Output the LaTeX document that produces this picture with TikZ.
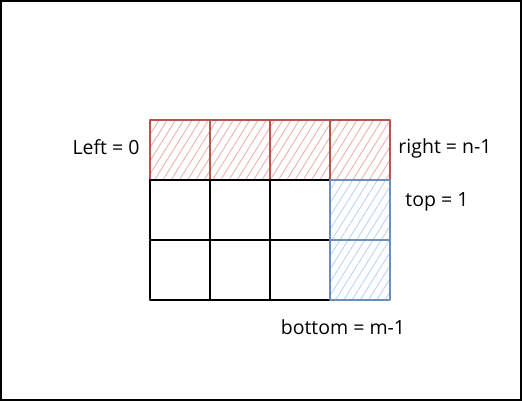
\documentclass[tikz,border=0pt]{standalone}
\usepackage{fontspec}
\setmainfont{Open Sans}
\usetikzlibrary{patterns.meta}
\definecolor{redS}{HTML}{B85450}
\definecolor{redF}{HTML}{F2AFAD}
\definecolor{blueS}{HTML}{6C8EBF}
\definecolor{blueF}{HTML}{BCD3F2}
\tikzset{
  cell/.style={draw=black, line width=2.3pt, minimum width=60pt, minimum height=60pt, inner sep=0pt, outer sep=0pt, line join=round},
  redcell/.style={cell, draw=redS, pattern={Lines[angle=58, distance=7pt, line width=0.9pt]}, pattern color=redF},
  bluecell/.style={cell, draw=blueS, pattern={Lines[angle=58, distance=7pt, line width=0.9pt]}, pattern color=blueF},
  lbl/.style={font=\fontsize{19.5}{22}\selectfont, inner sep=0pt}
}
\begin{document}
\begin{tikzpicture}[x=1pt, y=-1pt]
\useasboundingbox (0,0) rectangle (522,401);
\draw[line width=1.6pt] (0.8,0.8) rectangle (521.2,400.2);
% top row (red)
\node[redcell] (r1) at (180,150) {};
\node[redcell] (r2) at (240,150) {};
\node[redcell] (r3) at (300,150) {};
\node[redcell] (r4) at (360,150) {};
% plain cells
\node[cell] (a21) at (180,210) {};
\node[cell] (a22) at (240,210) {};
\node[cell] (a23) at (300,210) {};
\node[cell] (a31) at (180,270) {};
\node[cell] (a32) at (240,270) {};
\node[cell] (a33) at (300,270) {};
% right column (blue)
\node[bluecell] (b2) at (360,210) {};
\node[bluecell] (b3) at (360,270) {};
% labels
\node[lbl] (left) at (106,147) {Left = 0};
\node[lbl] (right) at (445,148) {right = n-1};
\node[lbl] (top) at (437,202) {top = 1};
\node[lbl] (bottom) at (343,327) {bottom = m-1};
\end{tikzpicture}
\end{document}
